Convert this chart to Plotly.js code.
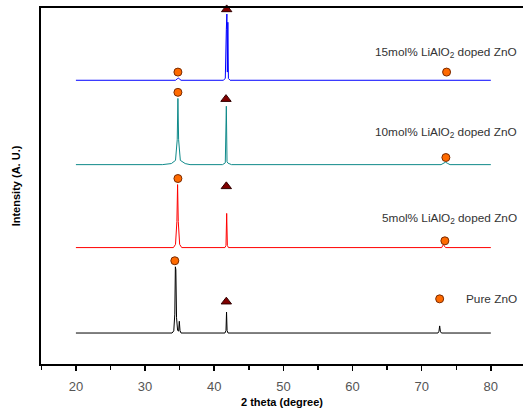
<!DOCTYPE html>
<html><head><meta charset="utf-8">
<script src="https://cdn.plot.ly/plotly-3.0.1.min.js"></script>
<style>html,body{margin:0;padding:0;background:#fff}</style>
</head><body>
<div id="chart" style="width:523px;height:410px"></div>
<script>
// Spectra (2theta, intensity in arbitrary units with vertical offsets)
const pureX = [20, 33.9, 34.15, 34.3, 34.38, 34.45, 34.55, 34.7, 34.85, 34.95, 35.05, 35.2, 41.55, 41.7, 41.78, 41.86, 42.0, 72.35, 72.5, 72.6, 72.7, 72.85, 80];
const pureY = [8.7, 8.7, 9.3, 14.0, 27.3, 26.5, 13.0, 9.5, 9.2, 12.0, 9.4, 8.7, 8.7, 9.4, 14.6, 9.4, 8.7, 8.7, 9.2, 10.7, 9.2, 8.7, 8.7];

const m5X = [20, 34.1, 34.4, 34.6, 34.7, 34.8, 35.0, 35.3, 41.55, 41.7, 41.8, 41.9, 42.05, 72.9, 73.05, 73.15, 73.3, 73.5, 80];
const m5Y = [32.7, 32.7, 33.6, 40.0, 50.4, 40.0, 33.6, 32.7, 32.7, 33.3, 42.3, 33.3, 32.7, 32.7, 33.3, 33.6, 33.0, 32.7, 32.7];

const m10X = [20, 32.5, 33.8, 34.4, 34.65, 34.75, 34.85, 35.1, 35.8, 36.5, 41.2, 41.6, 41.75, 41.85, 42.0, 42.5, 72.8, 73.2, 73.45, 73.7, 74.1, 80];
const m10Y = [56.0, 56.0, 56.3, 57.2, 63.0, 74.6, 63.0, 57.2, 56.3, 56.0, 56.0, 56.5, 72.4, 56.8, 56.4, 56.0, 56.0, 56.4, 56.7, 56.4, 56.0, 56.0];

const m15X = [20, 34.4, 34.65, 34.8, 34.95, 35.2, 41.3, 41.6, 41.75, 41.83, 41.9, 41.97, 42.05, 42.3, 80];
const m15Y = [79.7, 79.7, 80.1, 80.3, 80.1, 79.7, 79.7, 80.2, 94.0, 98.3, 82.0, 96.0, 80.2, 79.7, 79.7];

// Phase markers: circles (ZnO) and triangles (LiAlO2)
const circleX = [34.75, 73.6, 34.75, 73.5, 34.75, 73.35, 34.3, 72.6];
const circleY = [82.0, 82.0, 76.3, 58.0, 52.1, 34.6, 29.0, 18.3];
const triX = [41.8, 41.7, 41.75, 41.75];
const triY = [99.6, 74.4, 49.9, 17.5];

// Labels
const labelText = ["15mol% LiAlO<sub>2</sub> doped ZnO", "10mol% LiAlO<sub>2</sub> doped ZnO", "5mol% LiAlO<sub>2</sub> doped ZnO", "Pure ZnO"];
const labelY = [87.6, 64.9, 41.0, 18.3];

const xTickVals = [20, 30, 40, 50, 60, 70, 80];
const xTitle = '2 theta (degree)';
const yTitle = 'Intensity (A. U.)';

const lineW = 1;
const traces = [
  {x: pureX, y: pureY, mode: 'lines', line: {color: '#000000', width: lineW}, hoverinfo: 'skip'},
  {x: m5X, y: m5Y, mode: 'lines', line: {color: '#ff0000', width: lineW}, hoverinfo: 'skip'},
  {x: m10X, y: m10Y, mode: 'lines', line: {color: '#0f8a8a', width: lineW}, hoverinfo: 'skip'},
  {x: m15X, y: m15Y, mode: 'lines', line: {color: '#0000ff', width: lineW}, hoverinfo: 'skip'},
  {x: circleX, y: circleY, mode: 'markers', cliponaxis: false,
   marker: {symbol: 'circle', size: 8, color: '#ff6a00', line: {color: '#7a2a00', width: 1}}},
  {x: triX, y: triY, mode: 'markers', cliponaxis: false,
   marker: {symbol: 'triangle-up', size: 9, color: '#800000', line: {color: '#300000', width: 1}}}
];

const annotations = labelText.map((t, i) => ({
  x: 84.1, y: labelY[i], xref: 'x', yref: 'y', text: t, showarrow: false,
  xanchor: 'right', yanchor: 'middle',
  font: {family: 'Liberation Sans, Arial, sans-serif', size: 11.8, color: '#333333'}
}));
annotations.push({
  x: 0.5, y: -0.107, xref: 'paper', yref: 'paper', text: '<b>' + xTitle + '</b>',
  showarrow: false, xanchor: 'center', yanchor: 'middle',
  font: {family: 'Liberation Sans, Arial, sans-serif', size: 11, color: '#000'}
});

const layout = {
  width: 523, height: 410,
  margin: {l: 41, r: 0, t: 8, b: 46},
  paper_bgcolor: '#ffffff', plot_bgcolor: '#ffffff',
  showlegend: false,
  font: {family: 'Liberation Sans, Arial, sans-serif', size: 11, color: '#333333'},
  xaxis: {
    range: [14.95, 84.65],
    tickmode: 'array', tickvals: xTickVals, ticktext: xTickVals.map(String),
    ticks: 'outside', ticklen: 5, tickwidth: 1.5, tickcolor: '#000',
    ticklabelstandoff: 4,
    minor: {ticks: 'outside', dtick: 5, tick0: 15, ticklen: 4, tickwidth: 1.5, tickcolor: '#000'},
    showline: true, linecolor: '#000', linewidth: 2, mirror: true,
    showgrid: false, zeroline: false,
    tickfont: {size: 13, color: '#555'}
  },
  yaxis: {
    range: [0, 100],
    showticklabels: false, ticks: '',
    showline: true, linecolor: '#000', linewidth: 2,
    showgrid: false, zeroline: false,
    title: {text: '<b>' + yTitle + '</b>', font: {size: 11, color: '#000'}, standoff: 16}
  },
  annotations: annotations
};

Plotly.newPlot('chart', traces, layout, {staticPlot: true, displayModeBar: false});
</script>
</body></html>
